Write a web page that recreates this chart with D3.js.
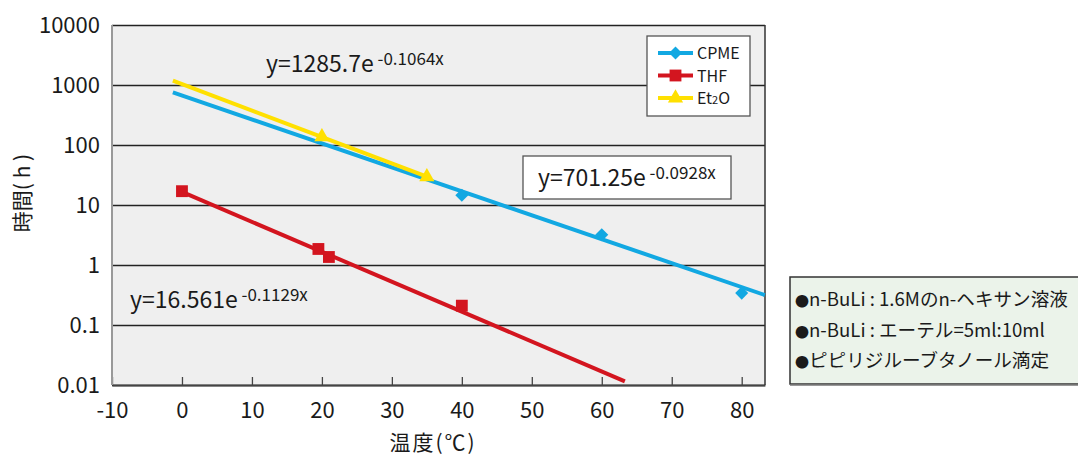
<!DOCTYPE html>
<html>
<head>
<meta charset="utf-8">
<script src="https://cdn.jsdelivr.net/npm/d3@7"></script>
<style>
  body { margin: 0; background: #fff; }
  svg { display: block; font-family: "Noto Sans CJK JP", "Noto Sans", sans-serif; }
</style>
</head>
<body>
<svg></svg>
<script>
// measured points
let cpmeX = [40, 60, 80]
let cpmeY = [14.5, 3.2, 0.34]
let thfX = [0, 19.5, 21, 40]
let thfY = [17, 1.85, 1.36, 0.21]
let etX = [20, 35]
let etY = [137, 29.5]

// trend lines (ends)
let cpmeTrendX = [-1.3, 83.3]
let cpmeTrendY = [755, 0.316]
let thfTrendX = [0, 63.3]
let thfTrendY = [16.5, 0.0115]
let etTrendX = [-1.3, 35]
let etTrendY = [1180, 29.6]

let xTicks = [-10, 0, 10, 20, 30, 40, 50, 60, 70, 80]
let xTickLabels = ['-10', '0', '10', '20', '30', '40', '50', '60', '70', '80']
let yTicks = [0.01, 0.1, 1, 10, 100, 1000, 10000]
let yTickLabels = ['0.01', '0.1', '1', '10', '100', '1000', '10000']

let seriesNames = ['CPME', 'THF', 'Et2O']
let equations = [
  ['y=701.25e', ' -0.0928x'],
  ['y=16.561e', ' -0.1129x'],
  ['y=1285.7e', ' -0.1064x']
]
let notes = [
  'n-BuLi : 1.6Mのn-ヘキサン溶液',
  'n-BuLi : エーテル=5ml:10ml',
  'ピピリジルーブタノール滴定'
]

let colors = { CPME: '#12a8e2', THF: '#d3151f', Et2O: '#ffe000' }

let width = 1078
let height = 457
let padL = 112, padR = 765, padT = 25, padB = 385

let svg = d3.select('svg').attr('width', width).attr('height', height)

let xScale = d3.scaleLinear().domain([-10, 83.33]).range([padL, padR])
let yScale = d3.scaleLog().domain([0.01, 10000]).range([padB, padT])

// plot background
svg.append('rect')
  .attr('x', padL).attr('y', padT)
  .attr('width', padR - padL).attr('height', padB - padT)
  .attr('fill', '#efefef')

// y axis + grid
let yAxis = d3.axisLeft(yScale)
  .tickValues(yTicks)
  .tickFormat((d, i) => yTickLabels[i])
  .tickSizeInner(-(padR - padL))
  .tickSizeOuter(0)
  .tickPadding(12)

let gy = svg.append('g').attr('transform', 'translate(' + padL + ',0)').call(yAxis)
gy.select('.domain').remove()
gy.selectAll('line').attr('stroke', '#222').attr('stroke-width', 1.3)
gy.selectAll('text').attr('font-size', 22).attr('fill', '#1a1a1a')
  .attr('font-family', '"Noto Sans CJK JP", sans-serif')

// x axis
let xAxis = d3.axisBottom(xScale)
  .tickValues(xTicks)
  .tickFormat((d, i) => xTickLabels[i])
  .tickSizeInner(-8)
  .tickSizeOuter(0)
  .tickPadding(17)

let gx = svg.append('g').attr('transform', 'translate(0,' + padB + ')').call(xAxis)
gx.select('.domain').attr('stroke', '#444').attr('stroke-width', 2)
gx.selectAll('line').attr('stroke', '#444').attr('stroke-width', 1.3)
gx.selectAll('text').attr('font-size', 22).attr('fill', '#1a1a1a')
  .attr('font-family', '"Noto Sans CJK JP", sans-serif')

// frame sides
svg.append('line').attr('x1', padL).attr('x2', padL).attr('y1', padT).attr('y2', padB)
  .attr('stroke', '#999').attr('stroke-width', 2)
svg.append('line').attr('x1', padR).attr('x2', padR).attr('y1', padT).attr('y2', padB)
  .attr('stroke', '#333').attr('stroke-width', 1.5)

// trend lines
let line = d3.line().x(d => xScale(d[0])).y(d => yScale(d[1]))
let trends = [
  ['CPME', d3.zip(cpmeTrendX, cpmeTrendY)],
  ['THF', d3.zip(thfTrendX, thfTrendY)],
  ['Et2O', d3.zip(etTrendX, etTrendY)]
]
trends.forEach(t => {
  svg.append('path')
    .attr('d', line(t[1]))
    .attr('fill', 'none')
    .attr('stroke', colors[t[0]])
    .attr('stroke-width', 4)
})

// markers (diamond = square turned 45deg)
let symbols = { CPME: d3.symbolSquare, THF: d3.symbolSquare, Et2O: d3.symbolTriangle }
let sizes = { CPME: 85, THF: 140, Et2O: 100 }
let turns = { CPME: 45, THF: 0, Et2O: 0 }
let pts = [
  ['CPME', d3.zip(cpmeX, cpmeY)],
  ['THF', d3.zip(thfX, thfY)],
  ['Et2O', d3.zip(etX, etY)]
]
pts.forEach(p => {
  svg.selectAll('.m-' + p[0])
    .data(p[1])
    .enter()
    .append('path')
    .attr('class', 'm-' + p[0])
    .attr('d', d3.symbol().type(symbols[p[0]]).size(sizes[p[0]]))
    .attr('transform', d => 'translate(' + xScale(d[0]) + ',' + yScale(d[1]) + ') rotate(' + turns[p[0]] + ')')
    .attr('fill', colors[p[0]])
})

// equations
let drawEquation = (eq, x, y) => {
  let t = svg.append('text').attr('x', x).attr('y', y).attr('fill', '#1a1a1a')
  t.append('tspan').attr('font-size', 23).text(eq[0])
  t.append('tspan').attr('font-size', 17).attr('dy', -7).text(eq[1])
}

// CPME equation box
svg.append('rect')
  .attr('x', 523).attr('y', 156).attr('width', 208).attr('height', 43)
  .attr('fill', '#fff').attr('stroke', '#555').attr('stroke-width', 1.3)
drawEquation(equations[0], 538, 186)
drawEquation(equations[1], 130, 308)
drawEquation(equations[2], 266, 72)

// legend
let legend = svg.append('g')
legend.append('rect')
  .attr('x', 647).attr('y', 36).attr('width', 103).attr('height', 80)
  .attr('fill', '#fff').attr('stroke', '#555').attr('stroke-width', 1.3)
seriesNames.forEach((name, i) => {
  let y = 53 + i * 22.5
  legend.append('line')
    .attr('x1', 658).attr('x2', 693).attr('y1', y).attr('y2', y)
    .attr('stroke', colors[name]).attr('stroke-width', 4)
  legend.append('path')
    .attr('d', d3.symbol().type(symbols[name]).size(sizes[name]))
    .attr('transform', 'translate(675.5,' + y + ') rotate(' + turns[name] + ')')
    .attr('fill', colors[name])
  let t = legend.append('text').attr('x', 697).attr('y', y + 6)
    .attr('font-size', 16).attr('fill', '#1a1a1a')
  if (name == 'Et2O') {
    t.append('tspan').text('Et')
    t.append('tspan').attr('font-size', 11).text('2')
    t.append('tspan').text('O')
  } else {
    t.text(name)
  }
})

// axis titles
svg.append('text')
  .attr('transform', 'translate(30,193) rotate(-90)')
  .attr('text-anchor', 'middle')
  .attr('font-size', 21).attr('fill', '#1a1a1a')
  .text('時間( h )')
svg.append('text')
  .attr('x', 433).attr('y', 450)
  .attr('text-anchor', 'middle')
  .attr('font-size', 21).attr('fill', '#1a1a1a')
  .attr('letter-spacing', 2)
  .text('温度(℃)')

// note box
svg.append('rect')
  .attr('x', 790).attr('y', 277).attr('width', 300).attr('height', 107)
  .attr('fill', '#ebf3ea').attr('stroke', '#333').attr('stroke-width', 1.5)
svg.append('line')
  .attr('x1', 790).attr('x2', 1078).attr('y1', 385).attr('y2', 385)
  .attr('stroke', '#777').attr('stroke-width', 1.5)
notes.forEach((n, i) => {
  let t = svg.append('text')
    .attr('x', 795).attr('y', 306 + i * 30.5)
    .attr('font-size', 18.6).attr('fill', '#1a1a1a')
  t.append('tspan').attr('font-size', 14).text('●')
  t.append('tspan').text(n)
})
</script>
</body>
</html>
